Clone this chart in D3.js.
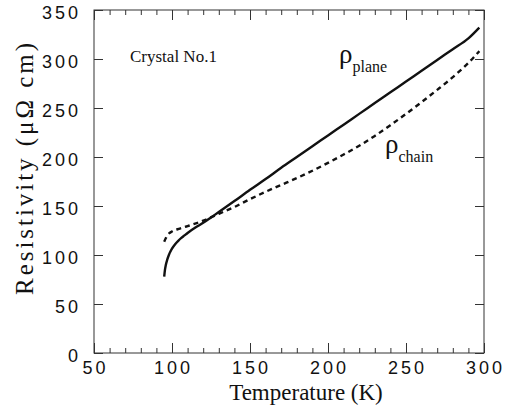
<!DOCTYPE html>
<html><head><meta charset="utf-8">
<script src="https://cdn.jsdelivr.net/npm/d3@7/dist/d3.min.js"></script>
<style>body{margin:0;background:#fff}</style>
</head><body>
<svg id="c" width="506" height="414"></svg>
<script>
const tempPlane = [95, 95.5, 96, 97, 98, 99, 100, 102, 104, 106, 108, 110, 115, 120, 125, 130, 140, 150, 160, 170, 180, 190, 200, 210, 220, 230, 240, 250, 260, 270, 280, 290, 297];
const rhoPlane  = [78, 85, 89.5, 95.5, 100, 103.5, 106.5, 111, 114.5, 117.5, 120, 122.5, 128, 132.8, 138.3, 143.8, 155, 166.5, 177.5, 189, 200, 211, 222, 233, 244, 255, 266, 277, 288, 299, 310, 321, 332];
const tempChain = [95, 96, 97, 100, 105, 110, 120, 130, 140, 150, 160, 170, 180, 190, 200, 210, 220, 230, 240, 250, 260, 270, 280, 290, 297];
const rhoChain  = [113.5, 117, 120, 124, 127, 129.5, 135, 142, 149, 157, 164.5, 171.5, 178.5, 186, 194, 202.5, 211.5, 221.5, 232.5, 244, 256, 268.5, 281.5, 296, 308];
const xTicks = [50, 100, 150, 200, 250, 300];
const yTicks = [0, 50, 100, 150, 200, 250, 300, 350];
const xMinor = d3.range(50, 301, 10);

const svg = d3.select("#c");
const L = 94, R = 484, T = 10, B = 353;
const x = d3.scaleLinear().domain([50, 300]).range([L, R]);
const y = d3.scaleLinear().domain([0, 350]).range([B, T]);
const ink = "#111";
const serif = "'Liberation Serif', 'Times New Roman', serif";
const sans = "'Liberation Sans', Arial, sans-serif";

svg.append("rect").attr("x", L).attr("y", T).attr("width", R - L).attr("height", B - T)
  .attr("fill", "none").attr("stroke", "#333").attr("stroke-width", 1);

const gs = [
  svg.append("g").attr("transform", `translate(0,${B})`).call(d3.axisTop(x).tickValues(xMinor).tickSize(5).tickFormat("")),
  svg.append("g").attr("transform", `translate(0,${B})`).call(d3.axisTop(x).tickValues(xTicks).tickSize(10).tickFormat("")),
  svg.append("g").attr("transform", `translate(0,${T})`).call(d3.axisBottom(x).tickValues(xMinor).tickSize(5).tickFormat("")),
  svg.append("g").attr("transform", `translate(0,${T})`).call(d3.axisBottom(x).tickValues(xTicks).tickSize(10).tickFormat("")),
  svg.append("g").attr("transform", `translate(${L},0)`).call(d3.axisRight(y).tickValues(yTicks).tickSize(9).tickFormat("")),
  svg.append("g").attr("transform", `translate(${R},0)`).call(d3.axisLeft(y).tickValues(yTicks).tickSize(9).tickFormat(""))
];
gs.forEach(g => {
  g.select(".domain").remove();
  g.selectAll("line").attr("stroke", "#333").attr("stroke-width", 1);
});

svg.append("g").selectAll("text").data(xTicks).join("text")
  .attr("x", d => x(d) + 1.5).attr("y", B + 21)
  .attr("text-anchor", "middle")
  .attr("font-family", sans).attr("font-size", 18)
  .attr("letter-spacing", 3).attr("fill", ink)
  .text(d => d);
svg.append("g").selectAll("text").data(yTicks).join("text")
  .attr("x", 81).attr("y", d => y(d) + 9)
  .attr("text-anchor", "end")
  .attr("font-family", sans).attr("font-size", 18)
  .attr("letter-spacing", 3).attr("fill", ink)
  .text(d => d);

svg.append("text").attr("x", 306).attr("y", 400).attr("text-anchor", "middle")
  .attr("font-family", serif).attr("font-size", 23).attr("fill", ink)
  .text("Temperature (K)");
svg.append("text").attr("transform", "translate(33,169) rotate(-90)").attr("text-anchor", "middle")
  .attr("font-family", serif).attr("font-size", 25).attr("fill", ink)
  .attr("textLength", 252).attr("lengthAdjust", "spacing")
  .text("Resistivity (μΩ cm)");

const line = d3.line().curve(d3.curveMonotoneX);
svg.append("path")
  .attr("d", line(tempPlane.map((t, i) => [x(t), y(rhoPlane[i])])))
  .attr("fill", "none").attr("stroke", ink).attr("stroke-width", 2.4);
svg.append("path")
  .attr("d", line(tempChain.map((t, i) => [x(t), y(rhoChain[i])])))
  .attr("fill", "none").attr("stroke", ink).attr("stroke-width", 2.4)
  .attr("stroke-dasharray", "5,4");

svg.append("text").attr("x", 130).attr("y", 62).attr("font-family", serif).attr("font-size", 17).attr("fill", ink)
  .text("Crystal No.1");
const p1 = svg.append("text").attr("x", 339).attr("y", 63).attr("font-family", serif).attr("fill", ink);
p1.append("tspan").attr("font-size", 27).text("ρ");
p1.append("tspan").attr("font-size", 16).attr("dy", 9).text("plane");
const p2 = svg.append("text").attr("x", 385).attr("y", 153).attr("font-family", serif).attr("fill", ink);
p2.append("tspan").attr("font-size", 27).text("ρ");
p2.append("tspan").attr("font-size", 16).attr("dy", 9).text("chain");
</script>
</body></html>
